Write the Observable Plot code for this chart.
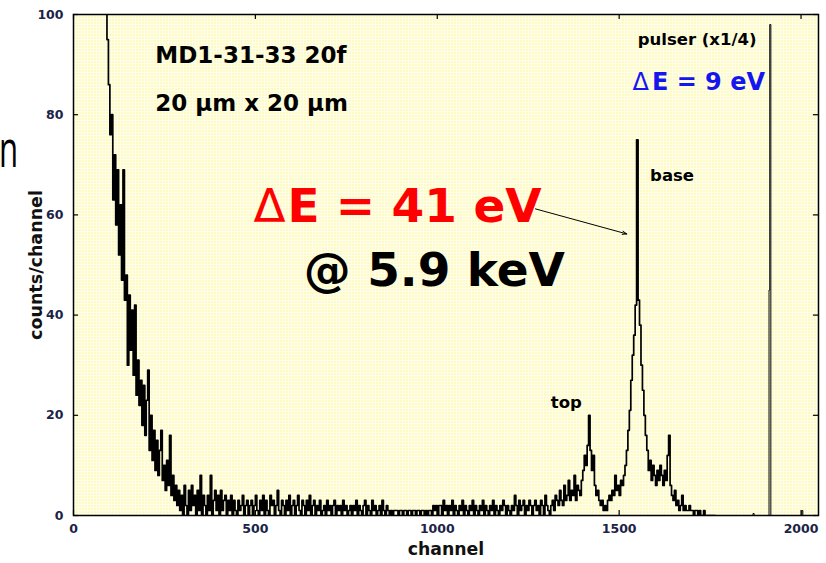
<!DOCTYPE html>
<html><head><meta charset="utf-8">
<script src="https://cdn.jsdelivr.net/npm/d3@7"></script>
<script src="https://cdn.jsdelivr.net/npm/@observablehq/plot@0.6"></script>
<style>
html,body{margin:0;padding:0;background:#fff;}
#wrap{position:relative;width:826px;height:563px;overflow:hidden;}
#slide-n{position:absolute;left:-1px;top:121px;font-family:"Open Sans";font-size:52px;line-height:52px;transform:scaleX(0.6);transform-origin:left top;color:#000;}
</style></head><body>
<div id="wrap"><div id="chart"></div><div id="slide-n">n</div></div>
<script>
// ---- data ----
const firstChannel = 88;
const binWidth = 4;
const counts = [
  110, 95, 86, 76, 80, 63, 72, 58, 69, 52,
  62, 47, 69, 43, 48, 30, 44, 33, 41, 28,
  42, 24, 31, 22, 27, 18, 26, 16, 23, 29,
  13, 20, 11, 17, 9, 15, 8, 13, 17, 7,
  10, 5, 11, 6, 16, 4, 8, 3, 6, 2,
  5, 1, 4, 0, 6, 2, 0, 5, 1, 6,
  2, 4, 0, 5, 1, 8, 0, 4, 2, 0,
  4, 1, 8, 0, 3, 5, 1, 4, 0, 5,
  1, 3, 4, 0, 3, 1, 4, 0, 3, 1,
  0, 3, 1, 2, 4, 0, 2, 3, 0, 2,
  3, 0, 2, 4, 1, 0, 3, 1, 4, 0,
  3, 1, 0, 4, 2, 3, 0, 2, 5, 1,
  0, 3, 2, 0, 3, 1, 4, 0, 2, 3,
  0, 2, 4, 1, 0, 3, 2, 0, 3, 1,
  4, 0, 2, 3, 0, 2, 1, 3, 0, 1,
  2, 0, 3, 1, 2, 0, 2, 3, 0, 2,
  1, 2, 0, 3, 1, 2, 0, 1, 2, 0,
  2, 1, 3, 0, 2, 1, 0, 2, 3, 0,
  2, 1, 0, 3, 1, 2, 0, 1, 2, 0,
  3, 1, 0, 2, 1, 0, 1, 0, 1, 1,
  1, 0, 1, 1, 0, 1, 1, 0, 1, 1,
  0, 1, 1, 0, 1, 1, 0, 1, 1, 0,
  1, 0, 1, 1, 0, 2, 1, 2, 0, 2,
  2, 0, 3, 1, 2, 0, 2, 1, 3, 0,
  2, 1, 0, 2, 1, 3, 0, 2, 1, 0,
  2, 1, 3, 0, 2, 1, 0, 2, 1, 3,
  0, 2, 1, 0, 2, 1, 3, 0, 2, 1,
  0, 2, 1, 3, 2, 0, 2, 1, 0, 2,
  1, 4, 2, 0, 3, 1, 2, 3, 0, 2,
  1, 3, 2, 0, 2, 3, 1, 2, 0, 3,
  2, 0, 4, 2, 1, 0, 2, 3, 1, 4,
  3, 2, 5, 3, 2, 6, 3, 4, 7, 3,
  5, 4, 8, 3, 6, 5, 4, 7, 9, 12,
  10, 14, 20, 13, 9, 12, 6, 4, 5, 3,
  2, 3, 1, 2, 1, 3, 4, 3, 5, 4,
  8, 5, 6, 4, 7, 6, 8, 10, 13, 17,
  21, 27, 32, 36, 42, 75, 43, 38, 30, 25,
  20, 16, 13, 9, 11, 7, 10, 8, 6, 9,
  7, 10, 8, 6, 9, 7, 12, 16, 6, 4,
  3, 5, 2, 3, 1, 2, 4, 1, 2, 1,
  1, 2, 1, 1, 0, 1, 1, 0, 1, 0,
  0, 1, 0, 0, 0, 0, 0, 0, 0, 0
];
// pulser region and tail (channel, count)
const tailChannels = [1764, 1868, 1871, 1910, 1912, 1914, 1917, 2002, 2005, 2048];
const tailCounts   = [0, 0.4, 0, 0, 45, 98, 0, 1, 0, 0];

const xTicks = [0, 500, 1000, 1500, 2000];
const yTicks = [0, 20, 40, 60, 80, 100];

const labelTexts    = ["MD1-31-33 20f", "20 \u03bcm x 20 \u03bcm", "pulser (x1/4)", "\u0394", "E = 9 eV", "base", "top", "\u0394", "E = 41 eV", "@ 5.9 keV"];
const labelChannels = [225, 225, 1551, 1537, 1590, 1585, 1312, 495, 588, 633];
const labelCounts   = [91.8, 82.2, 94.9, 86.4, 86.4, 67.8, 22.5, 61.5, 61.5, 48.9];

const arrowFrom = {channel: 1270, count: 61.2};
const arrowTo   = {channel: 1521, count: 56.2};

// ---- styles (not data) ----
const labelSizes   = [23, 23, 16.5, 24, 24, 16.5, 16.5, 47, 47, 47];
const labelWeights = ["bold", "bold", "bold", "normal", "bold", "bold", "bold", "normal", "bold", "bold"];
const labelColors  = ["#000", "#000", "#000", "#1515f0", "#1515f0", "#000", "#000", "#ff0000", "#ff0000", "#000"];
const tickColor = "#1b2346";

// ---- build ----
const spectrum = counts.map((c, i) => ({channel: firstChannel + i * binWidth, count: c}));
const tail = tailChannels.map((ch, i) => ({channel: ch, count: tailCounts[i]}));
const annotations = labelTexts.map((t, i) => ({text: t, channel: labelChannels[i], count: labelCounts[i],
  size: labelSizes[i], weight: labelWeights[i], color: labelColors[i]}));

const plot = Plot.plot({
  width: 826, height: 563,
  marginLeft: 73, marginRight: 8, marginTop: 14, marginBottom: 48,
  x: {domain: [0, 2048]},
  y: {domain: [0, 100]},
  style: {fontFamily: "DejaVu Sans", fontWeight: "bold", background: "transparent", overflow: "visible"},
  marks: [
    Plot.frame({fill: "#ffffd6", stroke: "none"}),
    Plot.line(spectrum, {x: "channel", y: "count", curve: "step-after", stroke: "#000", strokeWidth: 1.7, clip: true}),
    Plot.line(tail, {x: "channel", y: "count", curve: "step-after", stroke: "#000", strokeWidth: 1, clip: true}),
    // inward ticks on all four sides
    Plot.ruleX(xTicks, {y1: 0, y2: 1, stroke: "#000", strokeWidth: 1.2}),
    Plot.ruleX(xTicks, {y1: 99, y2: 100, stroke: "#000", strokeWidth: 1.2}),
    Plot.ruleY(yTicks, {x1: 0, x2: 14, stroke: "#000", strokeWidth: 1.2}),
    Plot.ruleY(yTicks, {x1: 2034, x2: 2048, stroke: "#000", strokeWidth: 1.2}),
    Plot.frame({stroke: "#000", strokeWidth: 1.5}),
    Plot.axisX({ticks: xTicks, tickFormat: d3.format("d"), tickSize: 0, tickPadding: 9, fontSize: 12.5, fill: tickColor, label: null}),
    Plot.axisY({ticks: yTicks, tickFormat: d3.format("d"), tickSize: 0, tickPadding: 10, fontSize: 12.5, fill: tickColor, label: null}),
    Plot.text(["channel"], {frameAnchor: "bottom", dy: 39, fontSize: 17.3, fill: "#111"}),
    Plot.text(["counts/channel"], {frameAnchor: "left", textAnchor: "middle", dx: -37, rotate: -90, fontSize: 17.5, fill: "#111"}),
    ...annotations.map(a => Plot.text([a], {x: "channel", y: "count", text: "text", textAnchor: "start",
      fontSize: a.size, fontWeight: a.weight, fill: a.color})),
    Plot.arrow([{x1: arrowFrom.channel, y1: arrowFrom.count, x2: arrowTo.channel, y2: arrowTo.count}],
      {x1: "x1", y1: "y1", x2: "x2", y2: "y2", stroke: "#000", strokeWidth: 1, headLength: 7, headAngle: 40})
  ]
});

// dotted yellow paper texture for the plotting area
const svgNS = "http://www.w3.org/2000/svg";
const defs = document.createElementNS(svgNS, "defs");
defs.innerHTML = '<pattern id="dots" width="3" height="3" patternUnits="userSpaceOnUse">' +
  '<rect width="3" height="3" fill="#fffff8"/>' +
  '<rect x="1" y="0" width="1" height="3" fill="#fefcd2"/>' +
  '<rect x="0" y="1" width="3" height="1" fill="#fefcd2"/>' +
  '<rect x="1" y="1" width="1" height="1" fill="#f8f278"/></pattern>';
plot.insertBefore(defs, plot.firstChild);
const fr = plot.querySelector('[aria-label="frame"]');
const frRect = fr && (fr.tagName.toLowerCase() === "rect" ? fr : fr.querySelector("rect"));
if (frRect) frRect.setAttribute("fill", "url(#dots)");

document.getElementById("chart").appendChild(plot);
</script>
</body></html>
